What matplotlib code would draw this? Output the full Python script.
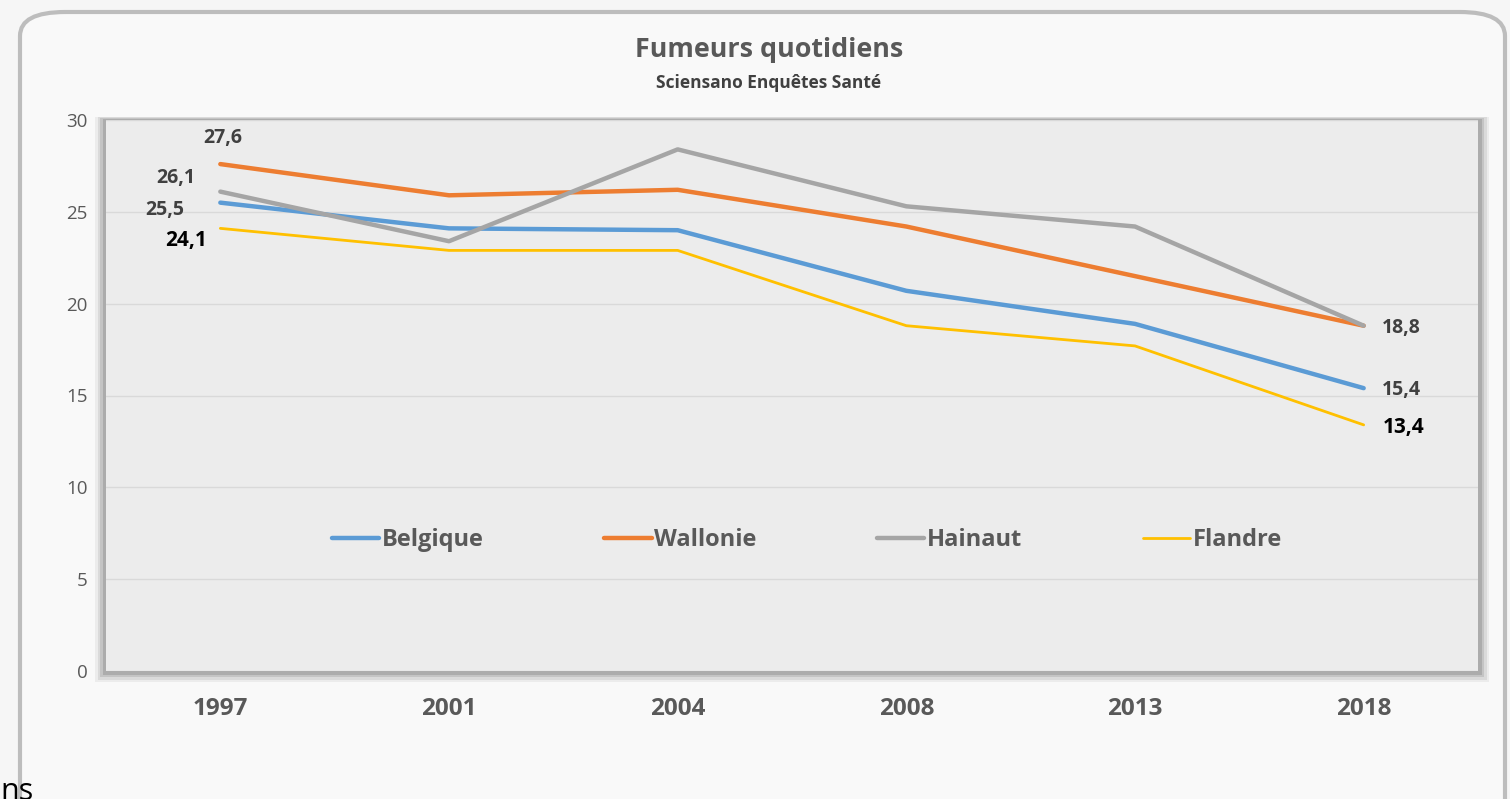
import numpy as np
import matplotlib.pyplot as plt
from matplotlib.patches import FancyBboxPatch, Rectangle

# données
annees = ["1997", "2001", "2004", "2008", "2013", "2018"]
belgique = [25.5, 24.1, 24.0, 20.7, 18.9, 15.4]
wallonie = [27.6, 25.9, 26.2, 24.2, 21.5, 18.8]
hainaut = [26.1, 23.4, 28.4, 25.3, 24.2, 18.8]
flandre = [24.1, 22.9, 22.9, 18.8, 17.7, 13.4]
yticks = [0, 5, 10, 15, 20, 25, 30]

plt.rcParams['font.family'] = ['Open Sans', 'DejaVu Sans']
W, H = 1510, 799
fig = plt.figure(figsize=(W / 100, H / 100), dpi=100)
fig.patch.set_facecolor('#f6f6f6')

# carte arrondie derrière le graphique
card = FancyBboxPatch((20 / W, -0.05), (1485 / W), 1 - 12 / H + 0.05,
                      boxstyle="round,pad=0,rounding_size=0.03",
                      transform=fig.transFigure, facecolor='#f9f9f9',
                      edgecolor='#bdbdbd', linewidth=3, zorder=0)
fig.patches.append(card)

left, right, top, bottom = 106, 1478, 120, 671
ax_pos = [left / W, 1 - bottom / H, (right - left) / W, (bottom - top) / H]

# ombre de la zone de tracé
for i, a in enumerate([0.10, 0.16, 0.24, 0.34]):
    d = (11 - 2.5 * i)
    sh = Rectangle(((left - d) / W, 1 - (bottom + d) / H),
                   (right - left + 2 * d) / W, (bottom - top + 1.3 * d) / H,
                   transform=fig.transFigure, facecolor='#808080', alpha=a,
                   edgecolor='none', zorder=1)
    fig.patches.append(sh)

ax = fig.add_axes(ax_pos)
ax.set_facecolor('#ececec')
ax.set_zorder(2)

x = np.arange(len(annees))
series = [("Belgique", belgique, '#5b9bd5', 3.2),
          ("Wallonie", wallonie, '#ed7d31', 3.2),
          ("Hainaut", hainaut, '#a5a5a5', 3.2),
          ("Flandre", flandre, '#ffc000', 2.0)]
for nom, vals, col, lw in series:
    ax.plot(x, vals, color=col, linewidth=lw, label=nom,
            solid_capstyle='round', zorder=3)

ax.set_xlim(-0.5, len(annees) - 0.5)
ax.set_ylim(0, 30)
ax.set_yticks(yticks)
ax.grid(axis='y', color='#d9d9d9', linewidth=1)
ax.set_axisbelow(True)
for s in ax.spines.values():
    s.set_visible(False)
ax.tick_params(length=0)
ax.set_yticklabels([str(v) for v in yticks], fontsize=13.5, color='#595959')
ax.tick_params(axis='y', pad=13)
ax.set_xticks(x)
ax.set_xticklabels(annees, fontsize=17.5, fontweight='bold', color='#595959')
ax.tick_params(axis='x', pad=19)


def fmt(v):
    return f"{v:.1f}".replace('.', ',')


# étiquettes de valeurs
lab = dict(fontsize=14, fontweight='bold', color='#404040',
           textcoords='offset points', ha='center', va='center')
big = dict(fontsize=15, fontweight='bold', color='black',
           textcoords='offset points', ha='center', va='center')
ax.annotate(fmt(wallonie[0]), (x[0], wallonie[0]), xytext=(2, 19), **lab)
ax.annotate(fmt(hainaut[0]), (x[0], hainaut[0]), xytext=(-32, 10), **lab)
ax.annotate(fmt(belgique[0]), (x[0], belgique[0]), xytext=(-40, -5), **lab)
ax.annotate(fmt(flandre[0]), (x[0], flandre[0]), xytext=(-25, -9), **big)
ax.annotate(fmt(hainaut[-1]), (x[-1], hainaut[-1]), xytext=(27, -2), **lab)
ax.annotate(fmt(belgique[-1]), (x[-1], belgique[-1]), xytext=(27, -1), **lab)
ax.annotate(fmt(flandre[-1]), (x[-1], flandre[-1]), xytext=(29, -2), **big)

leg = ax.legend(loc='center', bbox_to_anchor=(0.511, 0.237), ncol=4, frameon=False,
                prop={'size': 17, 'weight': 'bold'},
                handlelength=2.0, handletextpad=0.12, columnspacing=5.1)
for t in leg.get_texts():
    t.set_color('#595959')

fig.text(769 / W, 1 - 50 / H, "Fumeurs quotidiens", ha='center', va='center',
         fontsize=19.4, fontweight='bold', color='#595959')
fig.text(769 / W, 1 - 83 / H, "Sciensano Enquêtes Santé", ha='center', va='center',
         fontsize=12.5, fontweight='bold', color='#404040')
# bout de texte coupé en bas à gauche, comme sur l'original
fig.text(0.0, 1 - 800 / H, "ns", ha='left', va='baseline', fontsize=22, color='black')

fig.savefig('out.png', dpi=100, facecolor=fig.get_facecolor())
